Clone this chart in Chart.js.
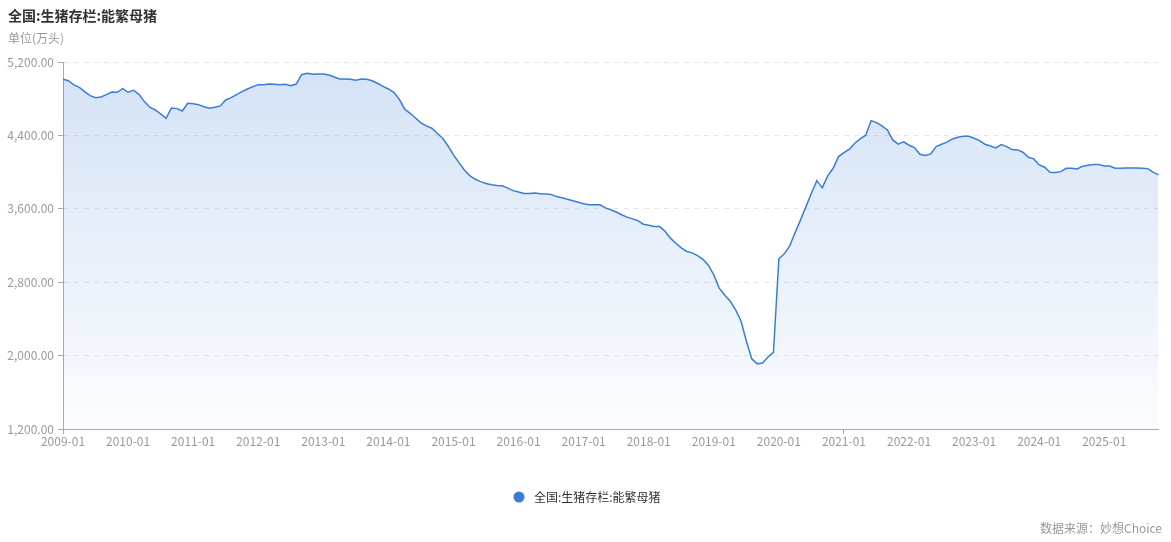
<!DOCTYPE html>
<html><head><meta charset="utf-8">
<script src="https://cdn.jsdelivr.net/npm/chart.js@4.4.1/dist/chart.umd.min.js"></script>
<style>
html,body{margin:0;padding:0;background:#fff;}
#wrap{position:relative;width:1171px;height:542px;font-family:"Noto Sans CJK SC","Noto Sans",sans-serif;}
#title{position:absolute;left:8px;top:5px;font-size:14px;font-weight:bold;color:#333;line-height:20px;}
#unit{position:absolute;left:8px;top:29px;font-size:12px;color:#999;line-height:18px;}
#src{position:absolute;right:9px;top:519px;font-size:12px;color:#999;line-height:18px;}
canvas{position:absolute;left:0;top:0;}
</style></head><body>
<div id="wrap"><canvas id="c" width="1171" height="542"></canvas>
<div id="title">全国:生猪存栏:能繁母猪</div>
<div id="unit">单位(万头)</div>
<div id="src">数据来源：妙想Choice</div></div>
<script>
const seriesName = '全国:生猪存栏:能繁母猪';
const years = [2009,2010,2011,2012,2013,2014,2015,2016,2017,2018,2019,2020,2021,2022,2023,2024,2025];
const v2009 = [5012,4996,4950,4924,4877,4833,4811,4819,4844,4873,4870,4909];
const v2010 = [4870,4892,4848,4768,4707,4677,4634,4587,4699,4692,4666,4750];
const v2011 = [4746,4735,4713,4696,4707,4721,4786,4811,4844,4877,4906,4931];
const v2012 = [4953,4953,4960,4957,4953,4957,4942,4960,5062,5077,5066,5069];
const v2013 = [5069,5058,5037,5015,5015,5011,5001,5015,5011,4996,4968,4935];
const v2014 = [4906,4870,4794,4688,4641,4590,4536,4503,4478,4424,4369,4285];
const v2015 = [4187,4103,4024,3962,3922,3896,3875,3861,3853,3850,3825,3798];
const v2016 = [3784,3766,3766,3773,3765,3760,3755,3733,3720,3705,3688,3672];
const v2017 = [3655,3645,3643,3643,3610,3590,3565,3535,3509,3490,3470,3432];
const v2018 = [3420,3406,3406,3355,3280,3225,3175,3135,3120,3090,3050,2985];
const v2019 = [2880,2735,2660,2595,2500,2380,2160,1965,1910,1920,1985,2035];
const v2020 = [3055,3109,3196,3341,3479,3624,3770,3907,3828,3959,4042,4169];
const v2021 = [4212,4249,4315,4361,4402,4561,4539,4503,4459,4351,4304,4329];
const v2022 = [4293,4267,4195,4180,4198,4278,4304,4326,4361,4380,4391,4391];
const v2023 = [4369,4343,4304,4285,4263,4300,4278,4245,4242,4217,4162,4144];
const v2024 = [4078,4053,3999,3995,4005,4042,4042,4035,4064,4075,4082,4082];
const v2025 = [4067,4067,4042,4042,4046,4046,4046,4042,4038,3999,3970];
const yTicks = [1200,2000,2800,3600,4400,5200];

const values = [].concat(v2009,v2010,v2011,v2012,v2013,v2014,v2015,v2016,v2017,v2018,v2019,v2020,v2021,v2022,v2023,v2024,v2025);
const labels = [];
years.forEach(y => { for (let m = 1; m <= 12; m++) labels.push(y + '-' + String(m).padStart(2,'0')); });
labels.length = values.length;

const LINE = '#3a7dd6';
const FONT = '"Noto Sans CJK SC","Noto Sans",sans-serif';

// legend marker: small filled circle placed in the right part of a wider image
const dot = document.createElement('canvas');
dot.width = 24; dot.height = 12;
(function(){ const c = dot.getContext('2d'); c.fillStyle = LINE; c.beginPath(); c.arc(18, 6, 5.5, 0, Math.PI*2); c.fill(); })();

new Chart(document.getElementById('c'), {
  type: 'line',
  data: {
    labels: labels,
    datasets: [{
      label: seriesName,
      data: values,
      borderColor: LINE,
      borderWidth: 1.5,
      pointRadius: 0,
      pointHoverRadius: 0,
      tension: 0,
      fill: 'start',
      backgroundColor: (ctx) => {
        const area = ctx.chart.chartArea;
        if (!area) return 'rgba(58,125,214,0.12)';
        const g = ctx.chart.ctx.createLinearGradient(0, area.top, 0, area.bottom);
        g.addColorStop(0, 'rgba(58,125,214,0.22)');
        g.addColorStop(1, 'rgba(58,125,214,0.02)');
        return g;
      }
    }]
  },
  options: {
    responsive: false,
    animation: false,
    devicePixelRatio: 1,
    layout: { padding: { top: 62, right: 12.5, bottom: 29, left: 0 } },
    plugins: {
      tooltip: { enabled: false },
      legend: {
        position: 'bottom',
        labels: {
          usePointStyle: true,
          pointStyle: dot,
          pointStyleWidth: 30,
          boxHeight: 12,
          padding: 10,
          color: '#333',
          font: { size: 12, family: FONT },
          generateLabels: (chart) => Chart.defaults.plugins.legend.labels.generateLabels(chart).map(l => Object.assign(l, { pointStyle: dot, fillStyle: LINE, strokeStyle: LINE, lineWidth: 0 }))
        }
      }
    },
    scales: {
      x: {
        type: 'category',
        offset: false,
        border: { color: '#aaa', width: 1 },
        grid: {
          drawOnChartArea: false,
          drawTicks: true,
          tickLength: 5,
          tickColor: (ctx) => (ctx.index % 12 === 0 ? '#aaa' : 'rgba(0,0,0,0)')
        },
        ticks: {
          autoSkip: false,
          maxRotation: 0,
          padding: 0,
          color: '#999',
          font: { size: 12, family: FONT },
          callback: function (val, idx) { return idx % 12 === 0 ? this.getLabelForValue(val) : null; }
        },
        afterFit: (s) => { s.height = 52; }
      },
      y: {
        min: 1200,
        max: 5200,
        border: { color: '#aaa', width: 1, dash: [5, 5] },
        grid: {
          color: '#e6e6e6',
          tickColor: '#aaa',
          tickBorderDash: [],
          tickLength: 5
        },
        afterBuildTicks: (s) => { s.ticks = yTicks.map(v => ({ value: v })); },
        ticks: {
          padding: 4,
          color: '#999',
          font: { size: 12, family: FONT },
          callback: (v) => Number(v).toLocaleString('en-US', { minimumFractionDigits: 2, maximumFractionDigits: 2 })
        },
        afterFit: (s) => { s.width = 63; }
      }
    }
  }
});
</script>
</body></html>
